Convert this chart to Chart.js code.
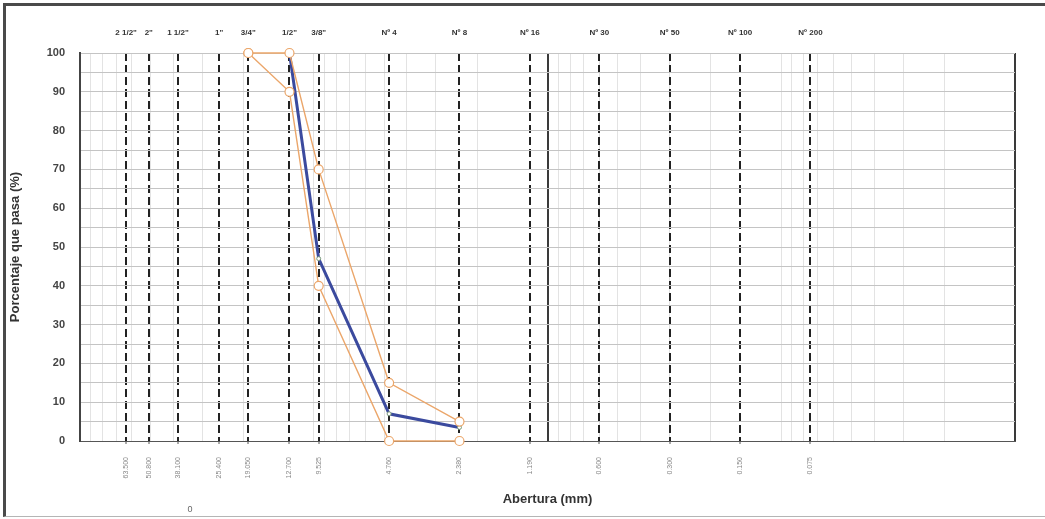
<!DOCTYPE html>
<html>
<head>
<meta charset="utf-8">
<script src="https://cdn.jsdelivr.net/npm/chart.js@4"></script>
<style>
    html, body { margin: 0; padding: 0; background: #fff; }
    #wrap { position: relative; width: 1045px; height: 519px; }
    #frame {
        position: absolute; left: 3px; top: 3px; right: 0; bottom: 2px;
        border-top: 3px solid #4a4a4a; border-left: 3px solid #4a4a4a;
        border-bottom: 1px solid #b5b5b5; pointer-events: none;
    }
</style>
</head>
<body>
<div id="wrap">
    <canvas id="chart" width="1045" height="519"></canvas>
    <div id="frame"></div>
</div>
<script>
// sieve openings (mm) and their names
const sieveMm = [63.5, 50.8, 38.1, 25.4, 19.05, 12.7, 9.525, 4.76, 2.38, 1.19, 0.6, 0.3, 0.15, 0.075];
const sieveMmLabels = ['63.500', '50.800', '38.100', '25.400', '19.050', '12.700', '9.525', '4.760', '2.380', '1.190', '0.600', '0.300', '0.150', '0.075'];
const sieveNames = ['2 1/2"', '2"', '1 1/2"', '1"', '3/4"', '1/2"', '3/8"', 'Nº 4', 'Nº 8', 'Nº 16', 'Nº 30', 'Nº 50', 'Nº 100', 'Nº 200'];

// gradation curves
const sampleMm = [12.7, 9.525, 4.76, 2.38];
const samplePass = [100, 47, 7, 3.5];
const limitMm = [19.05, 12.7, 9.525, 4.76, 2.38];
const upperPass = [100, 100, 70, 15, 5];
const lowerPass = [100, 90, 40, 0, 0];

const ORANGE = '#eba66a';
const BLUE = '#3b4a9e';
const FONT = 'Liberation Sans, Arial, sans-serif';

const toPoints = (xs, ys) => xs.map((x, i) => ({ x, y: ys[i] }));

const sieveTicks = scale => { scale.ticks = sieveMm.map(v => ({ value: v })); };

const strayText = {
    id: 'strayText',
    afterDraw(chart) {
        const ctx = chart.ctx;
        ctx.save();
        ctx.font = '9px ' + FONT;
        ctx.fillStyle = '#666';
        ctx.textAlign = 'center';
        ctx.fillText('0', 190, 512);
        ctx.restore();
    }
};

new Chart(document.getElementById('chart'), {
    type: 'line',
    data: {
        datasets: [
            {
                label: 'Muestra',
                data: toPoints(sampleMm, samplePass),
                borderColor: BLUE, borderWidth: 3, clip: false,
                pointRadius: 2, pointBackgroundColor: '#fff', pointBorderColor: '#7a9a7a', pointBorderWidth: 1,
                xAxisID: 'x', yAxisID: 'y', order: 2
            },
            {
                label: 'Límite superior',
                data: toPoints(limitMm, upperPass),
                borderColor: ORANGE, borderWidth: 1.4, clip: false,
                pointRadius: 4.5, pointBackgroundColor: '#fff', pointBorderColor: ORANGE, pointBorderWidth: 1.2,
                xAxisID: 'x', yAxisID: 'y', order: 1
            },
            {
                label: 'Límite inferior',
                data: toPoints(limitMm, lowerPass),
                borderColor: ORANGE, borderWidth: 1.4, clip: false,
                pointRadius: 4.5, pointBackgroundColor: '#fff', pointBorderColor: ORANGE, pointBorderWidth: 1.2,
                xAxisID: 'x', yAxisID: 'y', order: 1
            }
        ]
    },
    options: {
        responsive: false,
        animation: false,
        layout: { padding: { left: 8, right: 30, top: 8, bottom: 3 } },
        plugins: { legend: { display: false }, tooltip: { enabled: false } },
        scales: {
            xg: {
                type: 'logarithmic', reverse: true, min: 0.01, max: 100, position: 'bottom',
                afterBuildTicks: scale => {
                    const ticks = [];
                    for (let e = -2; e <= 1; e++) {
                        for (let m = 1; m <= 9; m++) ticks.push({ value: m * Math.pow(10, e) });
                    }
                    ticks.push({ value: 100 });
                    scale.ticks = ticks;
                },
                afterFit: s => { s.height = 0; },
                ticks: { display: false },
                border: { display: false },
                grid: {
                    drawTicks: false,
                    color: ctx => (ctx.tick && (ctx.tick.value === 1 || ctx.tick.value === 0.01)) ? '#3a3a3a' : '#e3e3e3',
                    lineWidth: ctx => (ctx.tick && (ctx.tick.value === 1 || ctx.tick.value === 0.01)) ? 2 : 1
                }
            },
            x: {
                type: 'logarithmic', reverse: true, min: 0.01, max: 100, position: 'bottom',
                afterBuildTicks: sieveTicks,
                afterFit: s => { s.height = 75; },
                ticks: {
                    autoSkip: false, maxRotation: 90, minRotation: 90, padding: 13,
                    font: { family: FONT, size: 7 }, color: '#888',
                    callback: (v, i) => sieveMmLabels[i]
                },
                border: { display: true, color: '#555', width: 1, dash: [8, 4] },
                grid: { color: '#222', lineWidth: 2, tickLength: 3, tickColor: '#555', tickWidth: 1 },
                title: {
                    display: true, text: 'Abertura (mm)', color: '#333',
                    font: { family: FONT, size: 13, weight: 'bold' }, padding: { top: 0, bottom: 9 }
                }
            },
            xt: {
                type: 'logarithmic', reverse: true, min: 0.01, max: 100, position: 'top',
                afterBuildTicks: sieveTicks,
                afterFit: s => { s.height = 45; },
                ticks: {
                    autoSkip: false, maxRotation: 0, minRotation: 0, padding: 15,
                    font: { family: FONT, size: 8, weight: 'bold' }, color: '#333',
                    callback: (v, i) => sieveNames[i]
                },
                border: { display: false },
                grid: { display: false, drawTicks: false }
            },
            y: {
                min: 0, max: 100,
                afterFit: s => { s.width = 72; },
                ticks: {
                    stepSize: 5, padding: 15,
                    font: { family: FONT, size: 11, weight: 'bold' }, color: '#444',
                    callback: v => (v % 10 === 0 ? v : '')
                },
                border: { display: true, color: '#444', width: 2 },
                grid: { color: '#c4c4c4', drawTicks: false },
                title: {
                    display: true, text: 'Porcentaje que pasa (%)', color: '#333',
                    font: { family: FONT, size: 13, weight: 'bold' }, padding: { top: 0, bottom: 6 }
                }
            }
        }
    },
    plugins: [strayText]
});
</script>
</body>
</html>
